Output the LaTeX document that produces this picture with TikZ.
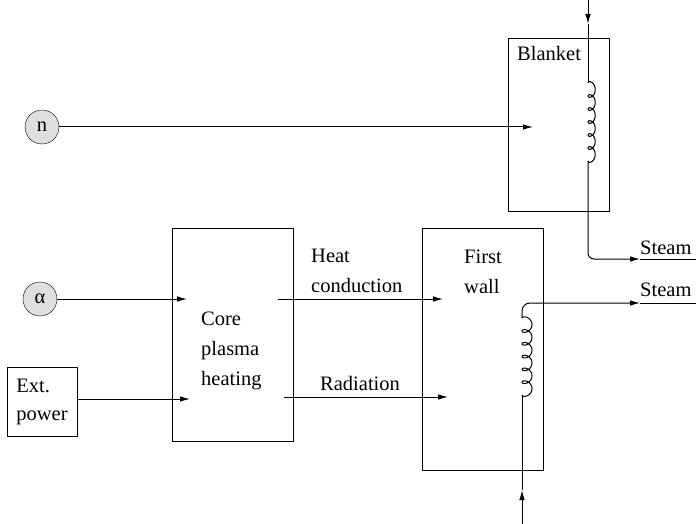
\documentclass[tikz,border=0pt]{standalone}
\usepackage{fontspec}
\setmainfont{Liberation Serif}
\usetikzlibrary{positioning,arrows.meta}
\tikzset{
block/.style={
draw,
line width=1pt,
inner sep=0pt,
anchor=north west
},
particle/.style={
draw,
circle,
fill=gray!25,
minimum size=34pt,
inner sep=0pt,
font=\fontsize{20.5}{30}\selectfont
},
txt/.style={
align=left,
anchor=west,
inner sep=0pt,
font=\fontsize{20.5}{30}\selectfont
},
arrow/.style={
-{Latex[length=10pt,width=5.5pt]},
line width=1pt
},
pipe/.style={
line width=1pt
}
}
\begin{document}
\begin{tikzpicture}[x=1pt,y=-1pt]

\useasboundingbox (0,0) rectangle (696,524);

% boxes
\node[block,minimum width=101pt,minimum height=173pt](blanket) at (508,38){};
\node[block,minimum width=121pt,minimum height=213pt](core) at (172,228){};
\node[block,minimum width=121pt,minimum height=242pt](wall) at (422,228){};
\node[draw,line width=1pt,minimum width=70pt,minimum height=69pt,inner sep=7pt,align=left,font=\fontsize{20.5}{28}\selectfont](ext) at (42,401.5){Ext.\\power};

% particles
\node[particle](n) at (42,127){n};
\node[particle](alpha) at (40,299){α};

% texts
\node[txt](blanketlbl) at (517,53){Blanket};
\node[txt](corelbl) at (201,351){Core\\plasma\\heating};
\node[txt](walllbl) at (464,272){First\\wall};
\node[txt](heatlbl) at (311,271){Heat\\conduction};
\node[txt](radlbl) at (320,383){Radiation};
\node[txt](steamA) at (640,248){Steam};
\node[txt](steamB) at (640,290){Steam};

% energy flows
\coordinate (nend) at (533,127);
\coordinate (aend) at (187,299);
\coordinate (eend) at (190,399);
\coordinate (hs) at (278,299);
\coordinate (he) at (443,299);
\coordinate (rs) at (284,397);
\coordinate (re) at (448,397);

\draw[arrow](n)--(nend);
\draw[arrow](alpha)--(aend);
\draw[arrow](ext.east |- eend)--(eend);
\draw[arrow](hs)--(he);
\draw[arrow](rs)--(re);

% blanket coolant
\coordinate (bin) at (588,0);
\coordinate (bmid) at (588,24);
\coordinate (btop) at (588,83);
\coordinate (bbot) at (588,161);
\coordinate (bsteam) at (640,259);
\coordinate (bout) at (696,259);

\draw[arrow](bin)--(bmid);
\draw[pipe](bmid)--(btop);
\draw[pipe,shift={(btop)}] plot[variable=\t,domain=0:37.699,samples=300]
({3.6*(1-cos(\t r))},{13*\t/(2*pi)-4*sin(\t r)});
\draw[arrow,rounded corners=6pt](bbot)|-(bsteam);
\draw[pipe](bsteam)--(bout);

% first wall coolant
\coordinate (win) at (522,524);
\coordinate (wmid) at (522,490);
\coordinate (wbot) at (522,395);
\coordinate (wtop) at (522,318);
\coordinate (wsteam) at (640,303);
\coordinate (wout) at (696,303);

\draw[arrow](win)--(wmid);
\draw[pipe](wmid)--(wbot);
\draw[pipe,shift={(wbot)}] plot[variable=\t,domain=0:37.699,samples=300]
({5*(1-cos(\t r))},{-12.8*\t/(2*pi)+4*sin(\t r)});
\draw[arrow,rounded corners=8pt](wtop)|-(wsteam);
\draw[pipe](wsteam)--(wout);

\end{tikzpicture}
\end{document}
